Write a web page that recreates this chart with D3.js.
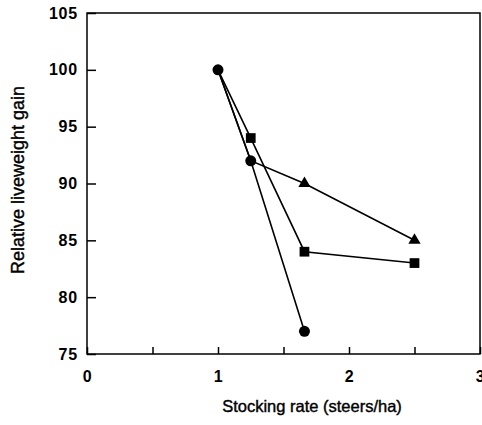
<!DOCTYPE html>
<html>
<head>
<meta charset="utf-8">
<script src="https://cdn.jsdelivr.net/npm/d3@7"></script>
<style>
  body { margin: 0; background: #fff; }
  svg { display: block; }
  text { font-family: "Liberation Sans", Arial, sans-serif; fill: #000; }
</style>
</head>
<body>
<div id="chart"></div>
<script>
// data
const xTicks = [0, 0.5, 1, 1.5, 2, 2.5, 3];
const xTickLabels = ["0", "", "1", "", "2", "", "3"];
const yTicks = [75, 80, 85, 90, 95, 100, 105];

const circleX = [1, 1.25, 1.66];
const circleY = [100, 92, 77];

const squareX = [1, 1.25, 1.66, 2.5];
const squareY = [100, 94, 84, 83];

const triangleX = [1, 1.25, 1.66, 2.5];
const triangleY = [100, 92, 90, 85];

const width = 482;
const height = 425;
const margin = { top: 13, right: 2, bottom: 71, left: 87 };

const svg = d3.select("#chart")
  .append("svg")
  .attr("width", width)
  .attr("height", height);

const x = d3.scaleLinear()
  .domain([0, 3])
  .range([margin.left, width - margin.right]);

const y = d3.scaleLinear()
  .domain([75, 105])
  .range([height - margin.bottom, margin.top]);

// frame
svg.append("rect")
  .attr("x", x(0))
  .attr("y", y(105))
  .attr("width", x(3) - x(0))
  .attr("height", y(75) - y(105))
  .attr("fill", "none")
  .attr("stroke", "#000")
  .attr("stroke-width", 1.5);

// x axis: ticks pointing inward
const xAxis = svg.append("g")
  .attr("transform", `translate(0,${y(75)})`)
  .call(d3.axisBottom(x)
    .tickValues(xTicks)
    .tickSize(-7)
    .tickPadding(17)
    .tickFormat((d, i) => xTickLabels[i]));
xAxis.select(".domain").remove();
xAxis.selectAll("line").attr("stroke", "#000").attr("stroke-width", 1.5);

// y axis
const yAxis = svg.append("g")
  .attr("transform", `translate(${x(0)},0)`)
  .call(d3.axisLeft(y)
    .tickValues(yTicks)
    .tickSize(-9)
    .tickPadding(9));
yAxis.select(".domain").remove();
yAxis.selectAll("line").attr("stroke", "#000").attr("stroke-width", 1.5);

svg.selectAll(".tick text")
  .attr("font-size", 16)
  .attr("font-weight", "bold")
  .attr("letter-spacing", 0.8)
  .attr("font-family", "'Liberation Sans', Arial, sans-serif");

// axis titles
svg.append("text")
  .attr("x", 312)
  .attr("y", 412)
  .attr("text-anchor", "middle")
  .attr("font-size", 16.5)
  .attr("stroke", "#000")
  .attr("stroke-width", 0.4)
  .text("Stocking rate (steers/ha)");

svg.append("text")
  .attr("transform", `translate(24,180) rotate(-90)`)
  .attr("text-anchor", "middle")
  .attr("font-size", 18)
  .attr("stroke", "#000")
  .attr("stroke-width", 0.4)
  .text("Relative liveweight gain");

const line = d3.line()
  .x(d => x(d[0]))
  .y(d => y(d[1]));

const series = [
  { xs: triangleX, ys: triangleY, shape: d3.symbolTriangle, size: 65 },
  { xs: squareX, ys: squareY, shape: d3.symbolSquare, size: 95 },
  { xs: circleX, ys: circleY, shape: d3.symbolCircle, size: 95 }
];

series.forEach(s => {
  const pts = s.xs.map((v, i) => [v, s.ys[i]]);
  svg.append("path")
    .datum(pts)
    .attr("fill", "none")
    .attr("stroke", "#000")
    .attr("stroke-width", 1.6)
    .attr("d", line);
});

// a point shared with the circle series shows only the circle
const onCircle = (vx, vy) => circleX.some((cx, i) => cx === vx && circleY[i] === vy);

series.forEach(s => {
  const pts = s.xs.map((v, i) => [v, s.ys[i]])
    .filter(d => s.shape === d3.symbolCircle || !onCircle(d[0], d[1]));
  svg.append("g")
    .selectAll("path")
    .data(pts)
    .join("path")
    .attr("transform", d => `translate(${x(d[0])},${y(d[1])})`)
    .attr("d", d3.symbol().type(s.shape).size(s.size))
    .attr("fill", "#000");
});
</script>
</body>
</html>
